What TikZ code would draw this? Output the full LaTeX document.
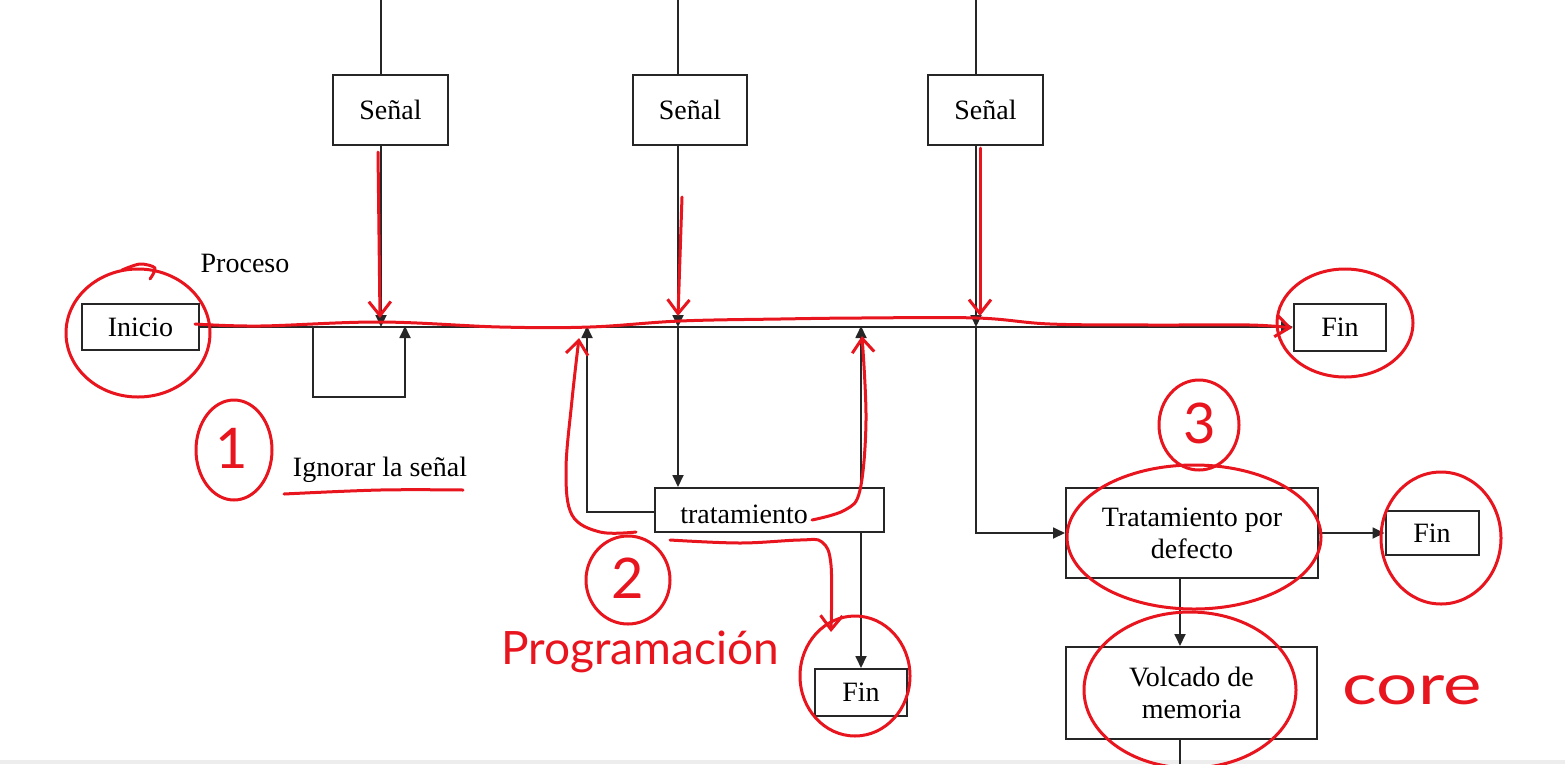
\documentclass[tikz,border=0pt]{standalone}
\usepackage{fontspec}
\setmainfont{Liberation Serif}
\newfontfamily\handfont{Lato}
\usetikzlibrary{arrows.meta}
\definecolor{pen}{RGB}{232,20,30}
\tikzset{
  box/.style={draw=black!85, line width=2pt, fill=white, inner sep=0pt, font=\fontsize{28}{32}\selectfont, align=center},
  wire/.style={draw=black!85, line width=1.8pt},
  arr/.style={wire, -{Triangle[length=12pt,width=11pt]}},
  lbl/.style={inner sep=0pt, font=\fontsize{28}{32}\selectfont},
  redpen/.style={draw=pen, line width=3pt, line cap=round, line join=round},
  redarr/.style={redpen, -{Straight Barb[length=14pt,width=22pt,line width=3pt]}},
  hand/.style={text=pen, inner sep=0pt, font=\handfont\fontsize{56}{60}\selectfont}
}
\begin{document}
\begin{tikzpicture}[x=1pt,y=-1pt]
\useasboundingbox (0,0) rectangle (1565,764);
\fill[black!7] (0,760) rectangle (1565,764);

% boxes
\node[box, minimum width=115pt, minimum height=70pt] (s1) at (390.5,110) {Señal};
\node[box, minimum width=114pt, minimum height=70pt] (s2) at (690,110) {Señal};
\node[box, minimum width=115pt, minimum height=70pt] (s3) at (985.5,110) {Señal};
\node[box, minimum width=117pt, minimum height=46pt] (ini) at (140.5,327) {Inicio};
\node[box, minimum width=92pt, minimum height=47pt] (fin1) at (1340,327) {Fin};
\node[box, minimum width=229pt, minimum height=44pt] (trat) at (769.5,510) {};
\node[lbl] (tratt) at (744,514) {tratamiento};
\node[box, minimum width=252pt, minimum height=90pt] (tpd) at (1192,533) {Tratamiento por\\defecto};
\node[box, minimum width=93pt, minimum height=44pt] (fin3) at (1432,533) {Fin};
\node[box, minimum width=92pt, minimum height=47pt] (fin2) at (861,692.5) {Fin};
\node[box, minimum width=251pt, minimum height=92pt] (volc) at (1191.5,693) {Volcado de\\memoria};

\node[lbl] (proc) at (245,263) {Proceso};
\node[lbl] (ign) at (380,470) {Ignorar la señal};

% coordinates
\coordinate (t1) at (381,0);
\coordinate (t2) at (678,0);
\coordinate (t3) at (976,0);
\coordinate (j1) at (381,327);
\coordinate (j2) at (678,327);
\coordinate (j3) at (976,327);
\coordinate (jl) at (313,327);
\coordinate (jr) at (405,327);
\coordinate (jt1) at (587,327);
\coordinate (jt2) at (861,327);
\coordinate (bot) at (1180,764);

% black wiring
\draw[arr] (ini.east) -- (fin1.west);
\draw[wire] (t1) -- (t1 |- s1.north);
\draw[wire] (t2) -- (t2 |- s2.north);
\draw[wire] (t3) -- (t3 |- s3.north);
\draw[arr] (t1 |- s1.south) -- (j1);
\draw[arr] (t2 |- s2.south) -- (j2);
\draw[arr] (t3 |- s3.south) -- (j3);
\draw[arr] (jl) -- (313,397) -- (405,397) -- ([yshift=1pt]jr);
\draw[arr] (j2) -- (j2 |- trat.north);
\draw[arr] (trat.west |- 0,512) -- (587,512) -- ([yshift=1pt]jt1);
\draw[arr] (jt2 |- trat.north) -- ([yshift=1pt]jt2);
\draw[arr] (jt2 |- trat.south) -- (fin2.north);
\draw[arr] (j3) -- (976,533) -- (tpd.west);
\draw[arr] (tpd.east) -- (fin3.west);
\draw[arr] (1180,0 |- tpd.south) -- (1180,0 |- volc.north);
\draw[wire] (1180,0 |- volc.south) -- (bot);

% red annotations
\draw[redarr] plot[smooth, tension=0.6] coordinates {(195,324) (260,326) (380,322) (500,327) (590,327) (680,321) (780,319) (860,318) (977,318) (1050,324) (1150,325) (1250,325) (1292,328)};
\draw[redarr] (378,152) -- (380,318);
\draw[redarr] (682,197) -- (678,316);
\draw[redarr] (980,148) -- (980,316);
\draw[redarr] plot[smooth, tension=0.6] coordinates {(636,532) (600,532) (572,515) (566,470) (572,400) (579,338)};
\draw[redarr] plot[smooth, tension=0.6] coordinates {(812,520) (845,510) (860,490) (866,420) (862,336)};
\draw[redarr] plot[smooth, tension=0.6] coordinates {(670,540) (740,543) (800,540) (822,542) (831,565) (831,632)};
\draw[redpen] plot[smooth, tension=0.6] coordinates {(284,494) (380,490) (463,490)};

\draw[redpen] (138,333) ellipse (72pt and 64pt);
\draw[redpen] plot[smooth] coordinates {(122,270) (140,264) (155,268) (150,279)};
\draw[redpen] (1345,323) ellipse (68pt and 54pt);
\draw[redpen] (234,450) ellipse (38pt and 50pt);
\draw[redpen] (628,580) ellipse (42pt and 44pt);
\draw[redpen] (1199,425) ellipse (40pt and 45pt);
\draw[redpen] (1194,537) ellipse (127pt and 72pt);
\draw[redpen] (1441,538) ellipse (60pt and 66pt);
\draw[redpen] (1190,690) ellipse (106pt and 78pt);
\draw[redpen] (855,676) ellipse (55pt and 60pt);

\node[hand] (n1) at (232,448) {1};
\node[hand] (n2) at (628,578) {2};
\node[hand] (n3) at (1200,423) {3};
\node[hand, font=\handfont\fontsize{46}{50}\selectfont] (prog) at (640,652) {Programación};
\node[hand, xscale=1.3] (core) at (1412,690) {core};
\end{tikzpicture}
\end{document}
